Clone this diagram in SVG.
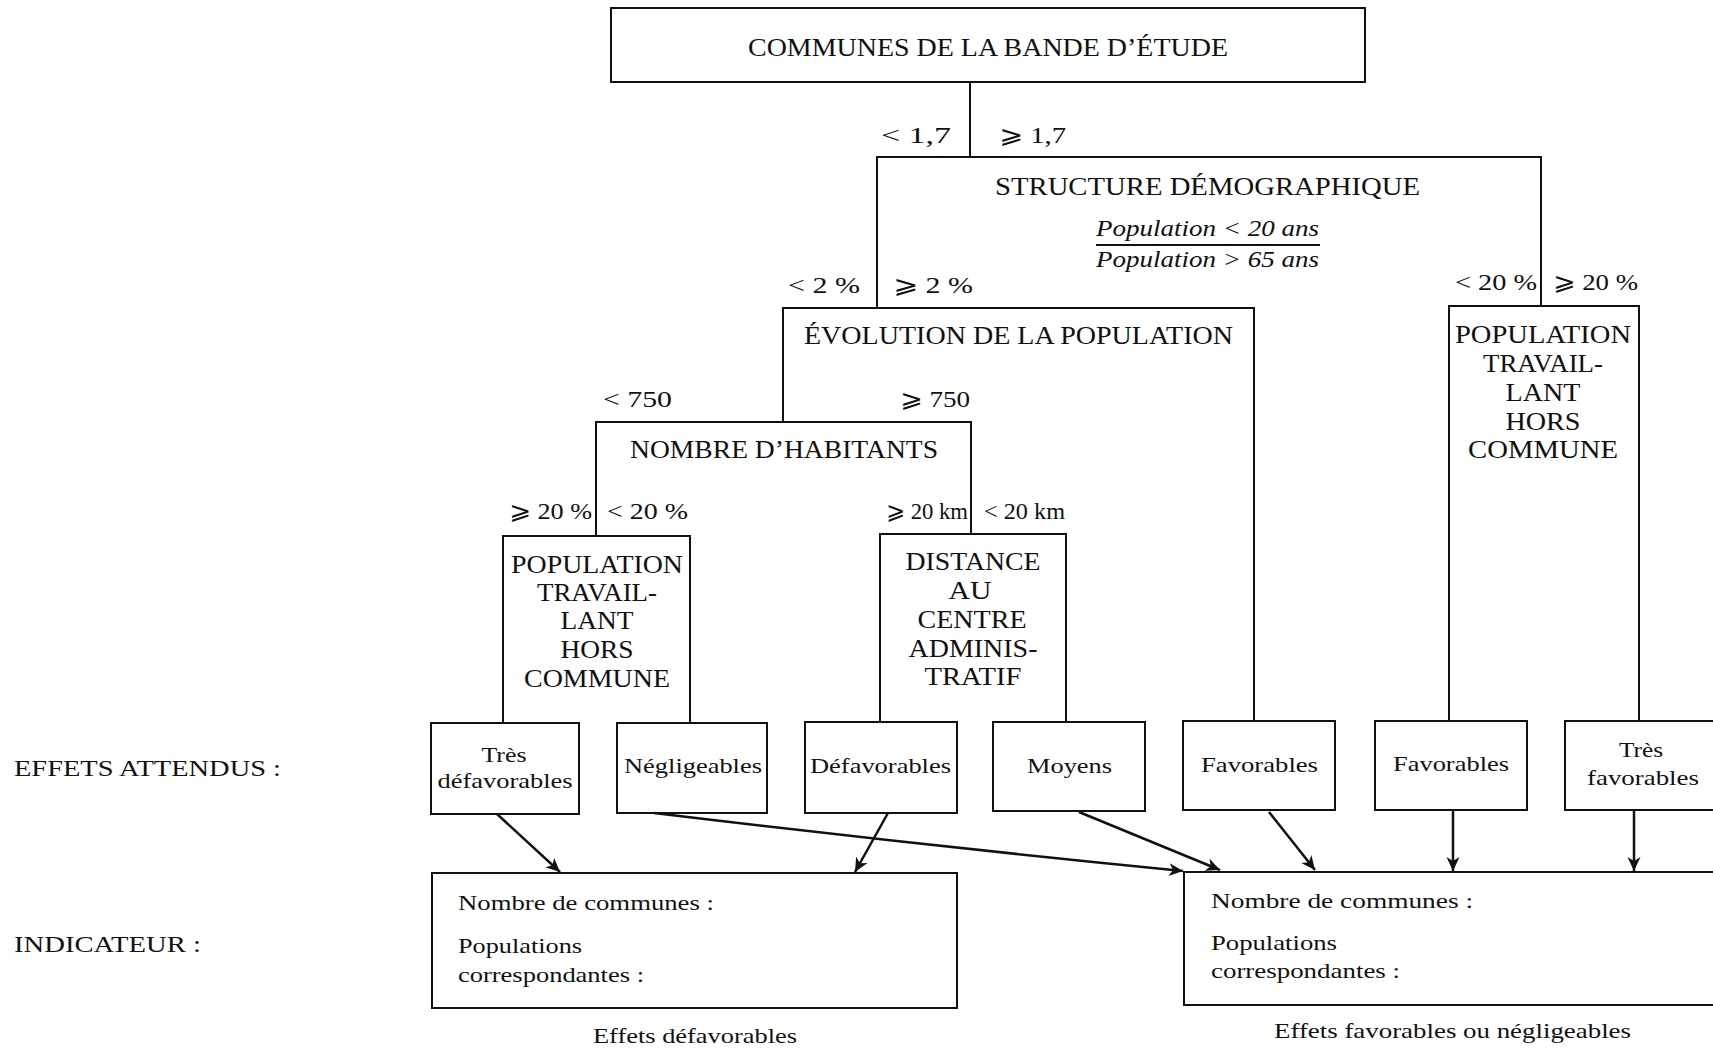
<svg xmlns="http://www.w3.org/2000/svg" width="1713" height="1050" viewBox="0 0 1713 1050">
<style>
  text { font-family: "Liberation Serif", "DejaVu Serif", "DejaVu Sans", serif; fill: #111; }
  .t { font-size: 25px; }
  .l { font-size: 24px; }
  .e { font-size: 22px; }
  .i { font-size: 22px; }
  .it { font-size: 24px; font-style: italic; }
  .mid { text-anchor: middle; }
  .box { fill: none; stroke: #111; stroke-width: 2; }
  .lnk { fill: none; stroke: #111; stroke-width: 2; }
  .arr { fill: none; stroke: #111; stroke-width: 2.5; marker-end: url(#ah); }
</style>
<defs>
  <marker id="ah" markerUnits="userSpaceOnUse" markerWidth="16" markerHeight="14" refX="14" refY="7" orient="auto">
    <path d="M0,0.5 L14,7 L0,13.5 L4,7 z" fill="#111"/>
  </marker>
</defs>
<rect width="1713" height="1050" fill="#fff"/>

<g id="connectors">
  <line class="lnk" x1="970" y1="82" x2="970" y2="157"/>
  <line class="arr" x1="497" y1="814" x2="560" y2="872"/>
  <line class="arr" x1="888" y1="813" x2="855" y2="872"/>
  <path class="arr" d="M654,813 Q920,845 1183,871"/>
  <line class="arr" x1="1079" y1="812" x2="1220" y2="870"/>
  <line class="arr" x1="1269" y1="812" x2="1315" y2="870"/>
  <line class="arr" x1="1453" y1="810" x2="1453" y2="871"/>
  <line class="arr" x1="1634" y1="810" x2="1634" y2="871"/>
</g>

<g id="node-communes">
  <rect class="box" x="611" y="8" width="754" height="74"/>
  <text class="t" x="748" y="56" textLength="480" lengthAdjust="spacingAndGlyphs">COMMUNES DE LA BANDE D’ÉTUDE</text>
</g>

<g id="node-structure">
  <path class="box" d="M877,308 V157 H1541 V306"/>
  <text class="l" x="881" y="143" textLength="70" lengthAdjust="spacingAndGlyphs">&lt; 1,7</text>
  <text class="l" x="999" y="143" textLength="67" lengthAdjust="spacingAndGlyphs">⩾ 1,7</text>
  <text class="t" x="995" y="195" textLength="425" lengthAdjust="spacingAndGlyphs">STRUCTURE DÉMOGRAPHIQUE</text>
  <text class="it" x="1096" y="236" textLength="223" lengthAdjust="spacingAndGlyphs">Population &lt; 20 ans</text>
  <line x1="1096" y1="245" x2="1320" y2="245" stroke="#111" stroke-width="2"/>
  <text class="it" x="1096" y="267" textLength="223" lengthAdjust="spacingAndGlyphs">Population &gt; 65 ans</text>
  <text class="l" x="788" y="293" textLength="72" lengthAdjust="spacingAndGlyphs">&lt; 2 %</text>
  <text class="l" x="893" y="293" textLength="80" lengthAdjust="spacingAndGlyphs">⩾ 2 %</text>
  <text class="l" x="1455" y="290" textLength="82" lengthAdjust="spacingAndGlyphs">&lt; 20 %</text>
  <text class="l" x="1553" y="290" textLength="85" lengthAdjust="spacingAndGlyphs">⩾ 20 %</text>
</g>

<g id="node-evolution">
  <path class="box" d="M783,422 V308 H1254 V721"/>
  <text class="t" x="804" y="344" textLength="429" lengthAdjust="spacingAndGlyphs">ÉVOLUTION DE LA POPULATION</text>
  <text class="l" x="603" y="407" textLength="69" lengthAdjust="spacingAndGlyphs">&lt; 750</text>
  <text class="l" x="900" y="407" textLength="70" lengthAdjust="spacingAndGlyphs">⩾ 750</text>
</g>

<g id="node-pop-right">
  <path class="box" d="M1449,720 V306 H1639 V721"/>
  <text class="t mid" x="1543" y="343" textLength="176" lengthAdjust="spacingAndGlyphs">POPULATION</text>
  <text class="t mid" x="1543" y="372" textLength="120" lengthAdjust="spacingAndGlyphs">TRAVAIL-</text>
  <text class="t mid" x="1543" y="401" textLength="75" lengthAdjust="spacingAndGlyphs">LANT</text>
  <text class="t mid" x="1543" y="430" textLength="75" lengthAdjust="spacingAndGlyphs">HORS</text>
  <text class="t mid" x="1543" y="458" textLength="150" lengthAdjust="spacingAndGlyphs">COMMUNE</text>
</g>

<g id="node-nombre">
  <path class="box" d="M596,536 V422 H971 V534"/>
  <text class="t" x="630" y="458" textLength="308" lengthAdjust="spacingAndGlyphs">NOMBRE D’HABITANTS</text>
  <text class="l" x="509" y="519" textLength="83" lengthAdjust="spacingAndGlyphs">⩾ 20 %</text>
  <text class="l" x="607" y="519" textLength="81" lengthAdjust="spacingAndGlyphs">&lt; 20 %</text>
  <text class="l" x="886" y="519" textLength="82" lengthAdjust="spacingAndGlyphs">⩾ 20 km</text>
  <text class="l" x="984" y="519" textLength="81" lengthAdjust="spacingAndGlyphs">&lt; 20 km</text>
</g>

<g id="node-pop-left">
  <path class="box" d="M503,723 V536 H690 V723"/>
  <text class="t mid" x="597" y="573" textLength="172" lengthAdjust="spacingAndGlyphs">POPULATION</text>
  <text class="t mid" x="597" y="601" textLength="120" lengthAdjust="spacingAndGlyphs">TRAVAIL-</text>
  <text class="t mid" x="597" y="629" textLength="73" lengthAdjust="spacingAndGlyphs">LANT</text>
  <text class="t mid" x="597" y="658" textLength="73" lengthAdjust="spacingAndGlyphs">HORS</text>
  <text class="t mid" x="597" y="687" textLength="146" lengthAdjust="spacingAndGlyphs">COMMUNE</text>
</g>

<g id="node-distance">
  <path class="box" d="M880,722 V534 H1066 V722"/>
  <text class="t mid" x="973" y="570" textLength="135" lengthAdjust="spacingAndGlyphs">DISTANCE</text>
  <text class="t mid" x="970" y="599" textLength="43" lengthAdjust="spacingAndGlyphs">AU</text>
  <text class="t mid" x="972" y="628" textLength="109" lengthAdjust="spacingAndGlyphs">CENTRE</text>
  <text class="t mid" x="973" y="657" textLength="129" lengthAdjust="spacingAndGlyphs">ADMINIS-</text>
  <text class="t mid" x="973" y="685" textLength="97" lengthAdjust="spacingAndGlyphs">TRATIF</text>
</g>

<g id="effet-tres-defavorables">
  <rect class="box" x="431" y="723" width="148" height="91"/>
  <text class="e mid" x="504" y="762" textLength="45" lengthAdjust="spacingAndGlyphs">Très</text>
  <text class="e mid" x="505" y="788" textLength="135" lengthAdjust="spacingAndGlyphs">défavorables</text>
</g>
<g id="effet-negligeables">
  <rect class="box" x="617" y="723" width="150" height="90"/>
  <text class="e" x="624" y="773" textLength="138" lengthAdjust="spacingAndGlyphs">Négligeables</text>
</g>
<g id="effet-defavorables">
  <rect class="box" x="805" y="722" width="152" height="91"/>
  <text class="e" x="810" y="773" textLength="141" lengthAdjust="spacingAndGlyphs">Défavorables</text>
</g>
<g id="effet-moyens">
  <rect class="box" x="993" y="722" width="152" height="89"/>
  <text class="e" x="1027" y="773" textLength="85" lengthAdjust="spacingAndGlyphs">Moyens</text>
</g>
<g id="effet-favorables-1">
  <rect class="box" x="1183" y="721" width="152" height="89"/>
  <text class="e" x="1201" y="772" textLength="117" lengthAdjust="spacingAndGlyphs">Favorables</text>
</g>
<g id="effet-favorables-2">
  <rect class="box" x="1375" y="721" width="152" height="89"/>
  <text class="e" x="1393" y="771" textLength="116" lengthAdjust="spacingAndGlyphs">Favorables</text>
</g>
<g id="effet-tres-favorables">
  <rect class="box" x="1565" y="721" width="160" height="89"/>
  <text class="e mid" x="1641" y="757" textLength="44" lengthAdjust="spacingAndGlyphs">Très</text>
  <text class="e mid" x="1643" y="785" textLength="112" lengthAdjust="spacingAndGlyphs">favorables</text>
</g>

<g id="indicateur-defavorables">
  <rect class="box" x="432" y="873" width="525" height="135"/>
  <text class="i" x="458" y="910" textLength="256" lengthAdjust="spacingAndGlyphs">Nombre de communes :</text>
  <text class="i" x="458" y="953" textLength="124" lengthAdjust="spacingAndGlyphs">Populations</text>
  <text class="i" x="458" y="982" textLength="186" lengthAdjust="spacingAndGlyphs">correspondantes :</text>
  <text class="i" x="593" y="1043" textLength="204" lengthAdjust="spacingAndGlyphs">Effets défavorables</text>
</g>

<g id="indicateur-favorables">
  <rect class="box" x="1184" y="872" width="545" height="133"/>
  <text class="i" x="1211" y="908" textLength="262" lengthAdjust="spacingAndGlyphs">Nombre de communes :</text>
  <text class="i" x="1211" y="950" textLength="126" lengthAdjust="spacingAndGlyphs">Populations</text>
  <text class="i" x="1211" y="978" textLength="189" lengthAdjust="spacingAndGlyphs">correspondantes :</text>
  <text class="i" x="1274" y="1038" textLength="357" lengthAdjust="spacingAndGlyphs">Effets favorables ou négligeables</text>
</g>

<g id="side-labels">
  <text class="l" x="14" y="776" textLength="267" lengthAdjust="spacingAndGlyphs">EFFETS ATTENDUS :</text>
  <text class="l" x="14" y="952" textLength="187" lengthAdjust="spacingAndGlyphs">INDICATEUR :</text>
</g>
</svg>
